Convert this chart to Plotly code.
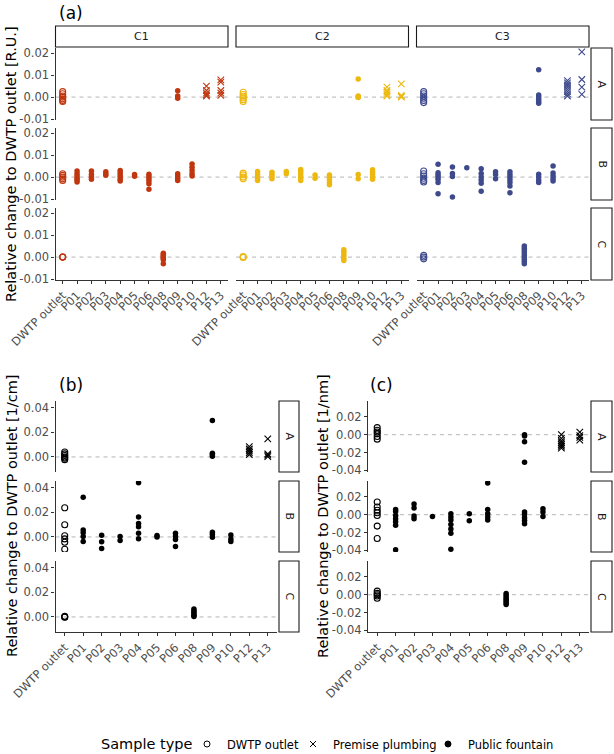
import plotly.graph_objects as go

W, H = 614, 754
FONT = "DejaVu Sans"

CATS = ["DWTP outlet", "P01", "P02", "P03", "P04", "P05", "P06", "P08", "P09", "P10", "P12", "P13"]
PREMISE = ["P12", "P13"]
COL_C = {"C1": "#C0360F", "C2": "#EDB80F", "C3": "#3F4A8C"}

# ---------------- panel (a) [R.U.] ----------------
a_A_C1 = {"DWTP outlet": [0.0025, 0.0015, 0.0005, 0.0, -0.0008, -0.0015, -0.002],
          "P09": [0.0029, 0.0005, -0.0005],
          "P12": [0.005, 0.003, 0.0018, 0.001, 0.0005],
          "P13": [0.0078, 0.0068, 0.003, 0.0018, 0.0008]}
a_A_C2 = {"DWTP outlet": [0.0022, 0.0012, 0.0004, -0.0004, -0.0012, -0.002],
          "P09": [0.0082, 0.0005, 0.0, -0.0002],
          "P12": [0.0045, 0.003, 0.0022, 0.0012, 0.0005],
          "P13": [0.006, 0.0008, 0.0003, 0.0]}
a_A_C3 = {"DWTP outlet": [0.0025, 0.0015, 0.0005, -0.0005, -0.0015, -0.0025],
          "P09": [0.0124, 0.001, 0.0, -0.001, -0.002, -0.0028],
          "P12": [0.0075, 0.0065, 0.0055, 0.0045, 0.0035, 0.0025, 0.0015, 0.0005],
          "P13": [0.0205, 0.008, 0.0045, 0.0012]}
a_B_C1 = {"DWTP outlet": [0.0015, 0.0008, 0.0, -0.0008, -0.0015],
          "P01": [0.0028, 0.0015, 0.0005, -0.0005, -0.0013, -0.0022],
          "P02": [0.0028, 0.0012, 0.0, -0.001],
          "P03": [0.0024, 0.0015, 0.0008],
          "P04": [0.003, 0.002, 0.001, 0.0, -0.001, -0.0018],
          "P05": [0.0012, 0.0004],
          "P06": [0.0013, 0.0003, -0.0008, -0.0018, -0.003, -0.0055],
          "P09": [0.0015, 0.0005, -0.0005, -0.0015],
          "P10": [0.006, 0.0045, 0.003, 0.0015, 0.0005]}
a_B_C2 = {"DWTP outlet": [0.0018, 0.001, 0.0, -0.0008],
          "P01": [0.0025, 0.0015, 0.0005, -0.0005, -0.0015],
          "P02": [0.0022, 0.0012, 0.0003, -0.0008],
          "P03": [0.0025, 0.0015],
          "P04": [0.0035, 0.0025, 0.0015, 0.0005, -0.0005, -0.0015],
          "P05": [0.001, -0.0005],
          "P06": [0.001, 0.0, -0.0012, -0.0025, -0.0035],
          "P09": [0.0012, -0.0008],
          "P10": [0.0033, 0.0022, 0.0012, 0.0002, -0.001]}
a_B_C3 = {"DWTP outlet": [0.0028, 0.0015, 0.0005, -0.0005, -0.0015, -0.0022],
          "P01": [0.0058, 0.002, 0.001, 0.0, -0.001, -0.0024, -0.0076],
          "P02": [0.0046, 0.0016, 0.0003, -0.009],
          "P03": [0.0043],
          "P04": [0.0038, 0.0016, 0.0, -0.0013, -0.0028, -0.0064],
          "P05": [0.0024, 0.0012, -0.0008],
          "P06": [0.0024, 0.0012, 0.0, -0.0012, -0.0025, -0.004, -0.0071],
          "P09": [0.0013, 0.0, -0.0013, -0.0024],
          "P10": [0.005, 0.0019, 0.0005, -0.0008, -0.0018]}
a_C_C1 = {"DWTP outlet": [0.0, 0.0, 0.0],
          "P08": [0.0018, 0.0012, 0.0006, 0.0, -0.0005, -0.0012, -0.003]}
a_C_C2 = {"DWTP outlet": [0.0002, 0.0, -0.0002],
          "P08": [0.0033, 0.0025, 0.0015, 0.0005, -0.0005, -0.0015]}
a_C_C3 = {"DWTP outlet": [0.0008, 0.0, -0.0008],
          "P08": [0.005, 0.004, 0.003, 0.002, 0.001, 0.0, -0.001, -0.002, -0.003]}

# ---------------- panel (b) [1/cm] ----------------
b_A = {"DWTP outlet": [0.004, 0.0025, 0.0012, 0.0, -0.001, -0.0022],
       "P09": [0.0297, 0.003, 0.002, 0.0005],
       "P12": [0.0085, 0.0065, 0.005, 0.0035, 0.002],
       "P13": [0.0147, 0.0025, 0.0015, 0.0003]}
b_B = {"DWTP outlet": [0.0238, 0.01, 0.001, -0.0016, -0.0043, -0.01],
       "P01": [0.0324, 0.0057, 0.0035, 0.0003, -0.0038],
       "P02": [0.0014, -0.004, -0.0095],
       "P03": [0.0003, -0.003],
       "P04": [0.0443, 0.0162, 0.011, 0.0084, 0.003, -0.0014],
       "P05": [0.0011, 0.0],
       "P06": [0.003, 0.0003, -0.002, -0.0078],
       "P09": [0.0038, 0.0019, -0.0003],
       "P10": [0.0016, -0.0016, -0.0038]}
b_C = {"DWTP outlet": [0.0005, 0.0, -0.0003],
       "P08": [0.0065, 0.005, 0.0038, 0.0025, 0.0012, 0.0003]}

# ---------------- panel (c) [1/nm] ----------------
c_A = {"DWTP outlet": [0.008, 0.005, 0.003, 0.001, -0.002, -0.005],
       "P09": [0.0, -0.0015, -0.0078, -0.031],
       "P12": [0.0, -0.004, -0.007, -0.009, -0.011, -0.013, -0.015],
       "P13": [0.003, -0.001, -0.003, -0.006]}
c_B = {"DWTP outlet": [0.0143, 0.0087, 0.005, 0.0023, -0.0008, -0.0128, -0.0268],
       "P01": [0.006, 0.0035, -0.001, -0.0045, -0.008, -0.012, -0.0396],
       "P02": [0.012, 0.0075, -0.0015, -0.0045],
       "P03": [-0.002],
       "P04": [0.0011, -0.0026, -0.006, -0.0109, -0.016, -0.021, -0.0389],
       "P05": [0.0011, -0.0068],
       "P06": [0.0358, 0.006, 0.0011, -0.0026, -0.006],
       "P09": [0.003, 0.0004, -0.0034, -0.0064, -0.0102],
       "P10": [0.0068, 0.003, -0.0019]}
c_C = {"DWTP outlet": [0.004, 0.0015, 0.0, -0.0015, -0.004],
       "P08": [0.0015, -0.001, -0.003, -0.005, -0.007, -0.009, -0.011]}

A_RANGE = [-0.0104, 0.0223]
A_TICKS = [-0.01, 0.0, 0.01, 0.02]
A_TEXT = ["-0.01", "0.00", "0.01", "0.02"]
B_RANGE = [-0.0123, 0.0457]
B_TICKS = [0.0, 0.02, 0.04]
B_TEXT = ["0.00", "0.02", "0.04"]
C_RANGE = [-0.042, 0.038]
C_TICKS = [-0.04, -0.02, 0.0, 0.02]
C_TEXT = ["-0.04", "-0.02", "0.00", "0.02"]

ROW_LABELS = ["A", "B", "C"]
LEGEND_TYPES = ["DWTP outlet", "Premise plumbing", "Public fountain"]


def px_x(a):
    return a / W


def px_y(b):
    return 1 - b / H


fig = go.Figure()
shapes = []
annotations = []
layout_axes = {}

AXCOL = "#333333"
TICKCOL = "#4d4d4d"
SYMBOLS = {"DWTP outlet": "circle-open", "Premise plumbing": "x-thin-open", "Public fountain": "circle"}


def sample_type(cat):
    if cat == "DWTP outlet":
        return "DWTP outlet"
    if cat in PREMISE:
        return "Premise plumbing"
    return "Public fountain"


def marker_for(st, color):
    if st == "DWTP outlet":
        return dict(symbol=SYMBOLS[st], size=6, color=color, line=dict(width=1.1, color=color))
    if st == "Premise plumbing":
        return dict(symbol=SYMBOLS[st], size=6.5, color=color, line=dict(width=1.1, color=color))
    return dict(symbol=SYMBOLS[st], size=5.5, color=color, line=dict(width=0))


ax_n = [0]


def add_subplot(data, color, xdom, ydom, yrange, yticks, ytext, show_y, show_x):
    ax_n[0] += 1
    n = ax_n[0]
    sfx = "" if n == 1 else str(n)
    for cat, vals in data.items():
        fig.add_trace(go.Scatter(x=[cat] * len(vals), y=vals, mode="markers",
                                 marker=marker_for(sample_type(cat), color), showlegend=False,
                                 xaxis="x" + sfx, yaxis="y" + sfx, hoverinfo="skip"))
    layout_axes["xaxis" + sfx] = dict(
        domain=[px_x(xdom[0]), px_x(xdom[1])], anchor="y" + sfx, automargin=False,
        type="category", categoryorder="array", categoryarray=CATS,
        tickmode="array", tickvals=CATS, ticktext=CATS,
        range=[-0.5, len(CATS) - 0.5], showgrid=False, zeroline=False,
        showline=show_x, linecolor=AXCOL, linewidth=1.2,
        ticks="outside" if show_x else "", ticklen=3, tickcolor=AXCOL, tickwidth=1,
        showticklabels=show_x, tickangle=-45,
        tickfont=dict(family=FONT, size=11.5, color=TICKCOL), fixedrange=True)
    layout_axes["yaxis" + sfx] = dict(
        domain=[px_y(ydom[1]), px_y(ydom[0])], anchor="x" + sfx, automargin=False,
        range=yrange, showgrid=False, zeroline=False,
        showline=show_y, linecolor=AXCOL, linewidth=1.2,
        ticks="outside" if show_y else "", ticklen=3, tickcolor=AXCOL, tickwidth=1,
        showticklabels=show_y, tickmode="array", tickvals=yticks, ticktext=ytext,
        tickfont=dict(family=FONT, size=11.5, color=TICKCOL), fixedrange=True)
    shapes.append(dict(type="line", xref="x" + sfx + " domain", yref="y" + sfx,
                       x0=0, x1=1, y0=0, y1=0, layer="below",
                       line=dict(color="#b5b5b5", width=1, dash="4px,4px")))


def strip(x0, x1, y0, y1, text, angle=0):
    shapes.append(dict(type="rect", xref="paper", yref="paper",
                       x0=px_x(x0), x1=px_x(x1), y0=px_y(y1), y1=px_y(y0),
                       line=dict(color="#1a1a1a", width=1.1), fillcolor="white"))
    annotations.append(dict(text=text, xref="paper", yref="paper",
                            x=px_x((x0 + x1) / 2), y=px_y((y0 + y1) / 2),
                            xanchor="center", yanchor="middle",
                            showarrow=False, textangle=angle,
                            font=dict(family=FONT, size=11, color="#1a1a1a")))


# ---- panel (a) layout
a_cols = {"C1": [55.5, 228], "C2": [236, 408.5], "C3": [416.5, 589]}
a_rows = [[48, 120], [128, 200], [208, 280]]
a_data = {"C1": [a_A_C1, a_B_C1, a_C_C1], "C2": [a_A_C2, a_B_C2, a_C_C2], "C3": [a_A_C3, a_B_C3, a_C_C3]}
for ci, (cname, xd) in enumerate(a_cols.items()):
    for ri, yd in enumerate(a_rows):
        add_subplot(a_data[cname][ri], COL_C[cname], xd, yd, A_RANGE, A_TICKS, A_TEXT,
                    show_y=(ci == 0), show_x=(ri == 2))
    strip(xd[0], xd[1], 26, 47, cname)
for ri, yd in enumerate(a_rows):
    strip(591, 612, yd[0], yd[1], ROW_LABELS[ri], angle=90)

# ---- panels (b) and (c)
bc_rows = [[401, 472], [481, 552], [561, 632]]
for ri, yd in enumerate(bc_rows):
    add_subplot([b_A, b_B, b_C][ri], "black", [55.5, 277], yd, B_RANGE, B_TICKS, B_TEXT,
                show_y=True, show_x=(ri == 2))
    strip(279, 299, yd[0], yd[1], ROW_LABELS[ri], angle=90)
for ri, yd in enumerate(bc_rows):
    add_subplot([c_A, c_B, c_C][ri], "black", [368, 589], yd, C_RANGE, C_TICKS, C_TEXT,
                show_y=True, show_x=(ri == 2))
    strip(591, 612, yd[0], yd[1], ROW_LABELS[ri], angle=90)

# ---- titles
for txt, x, y in [("(a)", 57, 13), ("(b)", 57, 385), ("(c)", 368, 385)]:
    annotations.append(dict(text=txt, xref="paper", yref="paper", x=px_x(x), y=px_y(y),
                            xanchor="left", yanchor="middle", showarrow=False,
                            font=dict(family=FONT, size=17, color="black")))
for txt, x, y in [("Relative change to DWTP outlet [R.U.]", 11, 164),
                  ("Relative change to DWTP outlet [1/cm]", 12, 516),
                  ("Relative change to DWTP outlet [1/nm]", 323, 516)]:
    annotations.append(dict(text=txt, xref="paper", yref="paper", x=px_x(x), y=px_y(y),
                            xanchor="center", yanchor="middle", showarrow=False, textangle=-90,
                            font=dict(family=FONT, size=14.5, color="black")))

# ---- legend: title + one legend box per sample type
annotations.append(dict(text="Sample type", xref="paper", yref="paper", x=px_x(99), y=px_y(744),
                        xanchor="left", yanchor="middle", showarrow=False,
                        font=dict(family=FONT, size=14.5, color="black")))
legend_left = [187, 293, 428]
legend_layouts = {}
for i, st in enumerate(LEGEND_TYPES):
    lname = "legend" if i == 0 else "legend%d" % (i + 1)
    fig.add_trace(go.Scatter(x=[None], y=[None], mode="markers", name=st,
                             marker=dict(symbol=SYMBOLS[st], size=6, color="black",
                                         line=dict(width=1, color="black")),
                             showlegend=True, legend=lname, xaxis="x", yaxis="y"))
    legend_layouts[lname] = dict(orientation="h", x=px_x(legend_left[i]), xanchor="left",
                                 y=px_y(744), yanchor="middle",
                                 font=dict(family=FONT, size=11.5, color="black"),
                                 itemwidth=30, bgcolor="rgba(0,0,0,0)", borderwidth=0)

fig.update_layout(
    template="none",
    width=W, height=H, margin=dict(l=0, r=0, t=0, b=0, autoexpand=False),
    paper_bgcolor="white", plot_bgcolor="rgba(0,0,0,0)",
    font=dict(family=FONT),
    shapes=shapes, annotations=annotations,
    showlegend=True,
    **legend_layouts,
    **layout_axes,
)

fig.write_html("out.html")
